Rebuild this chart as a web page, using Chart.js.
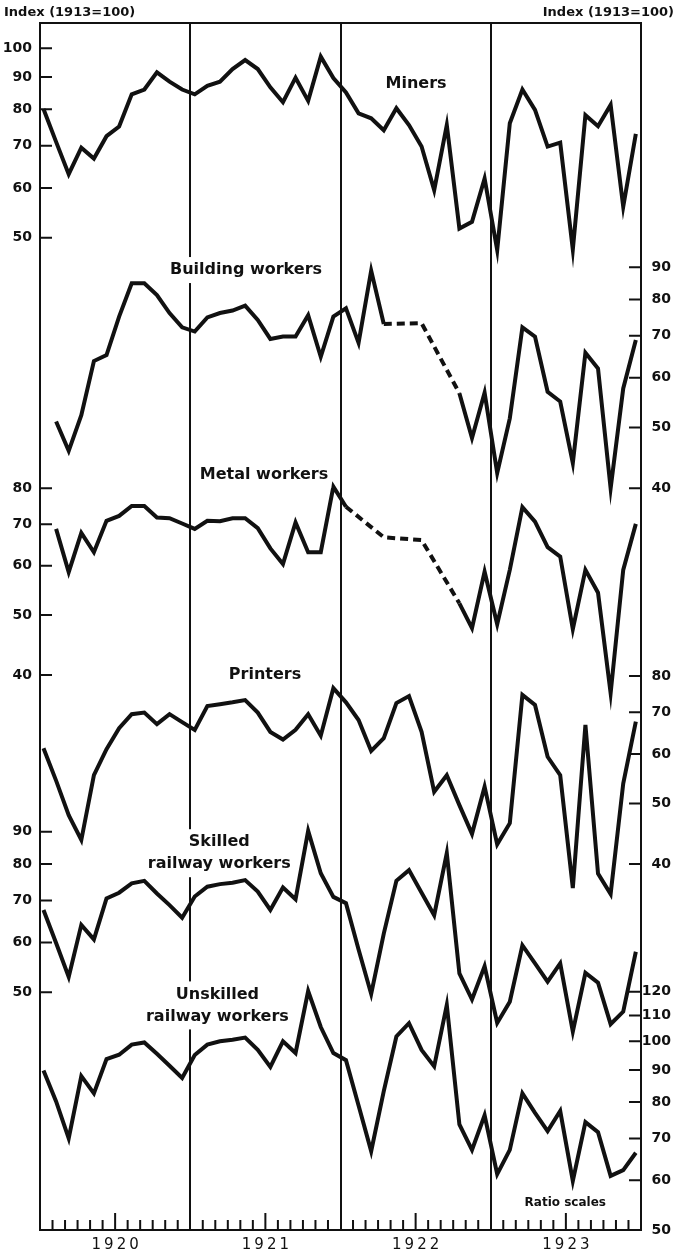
<!DOCTYPE html>
<html>
<head>
<meta charset="utf-8">
<script src="https://cdn.jsdelivr.net/npm/chart.js@4.4.1/dist/chart.umd.min.js"></script>
<style>
  html, body { margin: 0; padding: 0; background: #fff; }
  #wrap { width: 678px; height: 1257px; }
</style>
</head>
<body>
<div id="wrap"><canvas id="c" width="678" height="1257"></canvas></div>
<script>
// Monthly wage index series, Jan 1920 – Dec 1923 (index 1913 = 100), one value per month.
const years = ['1920', '1921', '1922', '1923'];

const miners = [80.1, 71, 63.1, 69.5, 66.8, 72.5, 75.1, 84.5, 86.0, 91.6, 88.5, 86.0,
  84.5, 87.2, 88.5, 92.7, 95.8, 92.7, 86.7, 82.1, 89.8, 82.5, 97.0, 89.7,
  85.1, 78.8, 77.4, 74.1, 80.3, 75.5, 69.8, 59.5, 75.5, 51.7, 53.0, 62.1,
  47.8, 76.0, 86.0, 79.8, 69.8, 70.8, 47.9, 78.3, 75.2, 81.3, 56.0, 73.1];

const building = [null, 51.1, 45.9, 52.3, 63.8, 65.2, 75.1, 84.9, 84.9, 81.3, 76.1, 72.2,
  71.1, 74.9, 76.1, 76.8, 78.2, 74.2, 69.2, 69.8, 69.8, 75.5, 64.8, 75.1,
  77.4, 68.2, 88.9, 73.1, null, null, 73.3, null, null, 56.7, 48.1, 56.8,
  42.3, 51.7, 72.2, 69.8, 57.0, 55.0, 43.9, 65.8, 62.1, 40.0, 57.7, 68.9];

const metal = [null, 68.8, 58.6, 67.8, 63.1, 70.9, 72.2, 74.9, 74.9, 71.8, 71.6, 70.2,
  68.8, 70.9, 70.8, 71.6, 71.6, 69.0, 64.0, 60.4, 70.5, 63.1, 63.1, 80.5,
  74.7, null, null, 66.7, null, null, 66.0, null, null, 52.2, 47.6, 58.7,
  48.3, 59.1, 74.6, 70.7, 64.3, 62.1, 47.4, 59.1, 54.3, 37.4, 59.1, 70.1];

const printers = [61.3, 54.4, 47.9, 43.7, 55.5, 61.1, 66.0, 69.5, 69.9, 67.0, 69.5, 67.5,
  65.6, 71.6, 72.1, 72.6, 73.2, 69.9, 65.1, 63.3, 65.6, 69.5, 64.2, 76.5,
  72.6, 68.0, 60.7, 63.6, 72.4, 74.3, 65.1, 52.2, 55.5, 49.7, 44.7, 53.2,
  43.0, 46.5, 74.6, 71.9, 59.4, 55.5, 36.6, 66.8, 38.6, 35.8, 53.8, 67.6];

const skilled = [67.6, 59.9, 52.9, 64.0, 60.7, 70.5, 72.0, 74.5, 75.2, 71.8, 68.8, 65.7,
  71.0, 73.6, 74.3, 74.7, 75.4, 72.3, 67.6, 73.4, 70.3, 90.3, 77.3, 70.9,
  69.3, 58.5, 49.7, 62.0, 75.2, 78.2, 72.0, 66.3, 83.2, 53.6, 48.7, 55.0,
  44.7, 48.3, 59.4, 55.6, 52.0, 55.6, 43.3, 53.7, 51.8, 44.5, 46.6, 58.0];

const unskilled = [89.8, 80.2, 70.0, 88.0, 82.6, 93.7, 95.2, 98.8, 99.6, 95.5, 91.4, 87.4,
  95.1, 98.8, 100.0, 100.6, 101.4, 96.9, 91.0, 100.0, 95.8, 120.3, 105.4, 95.8,
  93.3, 79.0, 66.8, 83.3, 101.8, 106.9, 96.9, 91.2, 114.3, 73.7, 67.1, 76.2,
  61.4, 67.1, 82.6, 76.9, 71.9, 77.4, 59.9, 74.3, 71.6, 61.0, 62.3, 66.4];

// Tick labels of each ratio scale (left-hand and right-hand)
const minersTicks = [50, 60, 70, 80, 90, 100];
const metalTicks = [40, 50, 60, 70, 80];
const skilledTicks = [50, 60, 70, 80, 90];
const buildingTicks = [40, 50, 60, 70, 80, 90];
const printersTicks = [40, 50, 60, 70, 80];
const unskilledTicks = [50, 60, 70, 80, 90, 100, 110, 120];

// Value range of each ratio scale over the full plot height (bottom, top)
const domains = {
  miners: [1.324, 109.7],
  building: [2.630, 220.6],
  metal: [5.096, 450.1],
  printers: [10.375, 888.7],
  skilled: [20.95, 1737],
  unskilled: [50, 4214]
};

const INK = '#111';
const FONT = "'DejaVu Sans', sans-serif";

const series = [
  { key: 'miners', label: 'Miners', values: miners },
  { key: 'building', label: 'Building workers', values: building },
  { key: 'metal', label: 'Metal workers', values: metal },
  { key: 'printers', label: 'Printers', values: printers },
  { key: 'skilled', label: 'Skilled railway workers', values: skilled },
  { key: 'unskilled', label: 'Unskilled railway workers', values: unskilled }
];

// Series captions, placed in data units (month index, value on the series' own scale)
const captions = [
  { key: 'miners', lines: ['Miners'], x: 29.56, y: 87.7 },
  { key: 'building', lines: ['Building workers'], x: 16.07, y: 89.1 },
  { key: 'metal', lines: ['Metal workers'], x: 17.5, y: 84.0 },
  { key: 'printers', lines: ['Printers'], x: 17.58, y: 80.3 },
  { key: 'skilled', lines: ['Skilled', 'railway workers'], x: 13.95, y: 83.2 },
  { key: 'unskilled', lines: ['Unskilled', 'railway workers'], x: 13.8, y: 114.1 },
  { key: 'unskilled', lines: ['Ratio scales'], x: 41.4, y: 55.2, size: 12, plain: true }
];

// Position of a value on a series' ratio scale, as a fraction of the plot height
function frac(key, v) {
  const [lo, hi] = domains[key];
  return Math.log(v / lo) / Math.log(hi / lo);
}
function tickList(groups) {
  const out = [];
  groups.forEach(([key, vals]) => vals.forEach(v => out.push({ value: frac(key, v), text: String(v) })));
  return out.sort((a, b) => a.value - b.value);
}
const leftList = tickList([['miners', minersTicks], ['metal', metalTicks], ['skilled', skilledTicks]]);
const rightList = tickList([['building', buildingTicks], ['printers', printersTicks], ['unskilled', unskilledTicks]]);

const scales = {
  x: {
    type: 'linear', position: 'bottom', min: 0, max: 48,
    afterFit: s => { s.height = 27; },
    afterBuildTicks: s => { s.ticks = Array.from({ length: 49 }, (_, m) => ({ value: m })); },
    grid: {
      display: true, drawOnChartArea: true, drawTicks: false, lineWidth: 2,
      color: c => (c.tick && c.tick.value % 12 === 0) ? INK : 'rgba(0,0,0,0)'
    },
    border: { display: true, color: INK, width: 2 },
    ticks: { display: false, autoSkip: false }
  },
  xd: { type: 'linear', display: false, min: -0.278, max: 47.41 },
  yl: {
    type: 'linear', position: 'left', min: 0, max: 1,
    afterFit: s => { s.width = 40; },
    afterBuildTicks: s => { s.ticks = leftList.map(t => ({ value: t.value })); },
    grid: { display: true, drawOnChartArea: false, drawTicks: false },
    border: { display: true, color: INK, width: 2 },
    ticks: {
      autoSkip: false, padding: 8, color: INK,
      font: { family: FONT, size: 14, weight: 'bold' },
      callback: (v, i) => leftList[i] ? leftList[i].text : ''
    }
  },
  yr: {
    type: 'linear', position: 'right', min: 0, max: 1,
    afterFit: s => { s.width = 30; },
    afterBuildTicks: s => { s.ticks = rightList.map(t => ({ value: t.value })); },
    grid: { display: true, drawOnChartArea: false, drawTicks: false },
    border: { display: true, color: INK, width: 2 },
    ticks: {
      autoSkip: false, padding: 2, crossAlign: 'far', color: INK,
      font: { family: FONT, size: 14, weight: 'bold' },
      callback: (v, i) => rightList[i] ? rightList[i].text : ''
    }
  }
};
series.forEach(s => {
  scales[s.key] = { type: 'logarithmic', display: false, min: domains[s.key][0], max: domains[s.key][1] };
});

// Inward tick marks, top frame line, year labels and the scale headings
const framePlugin = {
  id: 'frame',
  afterDraw(chart) {
    const { ctx, chartArea: a } = chart;
    const xs = chart.scales.x;
    ctx.save();
    ctx.strokeStyle = INK;
    ctx.lineWidth = 2;
    ctx.beginPath();
    ctx.moveTo(a.left - 1, a.top);
    ctx.lineTo(a.right + 1, a.top);
    chart.scales.yl.ticks.forEach(t => {
      const y = chart.scales.yl.getPixelForValue(t.value);
      ctx.moveTo(a.left, y); ctx.lineTo(a.left + 12, y);
    });
    chart.scales.yr.ticks.forEach(t => {
      const y = chart.scales.yr.getPixelForValue(t.value);
      ctx.moveTo(a.right, y); ctx.lineTo(a.right - 12, y);
    });
    xs.ticks.forEach(t => {
      if (t.value % 12 === 0) return;
      const x = xs.getPixelForValue(t.value);
      const len = (t.value % 12 === 6) ? 17 : 10;
      ctx.moveTo(x, a.bottom); ctx.lineTo(x, a.bottom - len);
    });
    ctx.stroke();

    // Year labels under the mid-year ticks
    ctx.fillStyle = INK;
    ctx.font = `15px ${FONT}`;
    ctx.textBaseline = 'middle';
    ctx.textAlign = 'center';
    const spacing = 3;
    if ('letterSpacing' in ctx) ctx.letterSpacing = spacing + 'px';
    years.forEach((label, i) => {
      const x = xs.getPixelForValue(12 * i + 6);
      ctx.fillText(label, x + spacing / 2, a.bottom + 15);
    });
    if ('letterSpacing' in ctx) ctx.letterSpacing = '0px';

    ctx.font = `bold 13px ${FONT}`;
    ctx.textAlign = 'left';
    ctx.fillText('Index (1913=100)', 4, 13);
    ctx.textAlign = 'right';
    ctx.fillText('Index (1913=100)', 674, 13);
    ctx.restore();
  }
};

// Series captions on white boxes
const captionPlugin = {
  id: 'captions',
  afterDatasetsDraw(chart) {
    const { ctx } = chart;
    ctx.save();
    captions.forEach(c => {
      const size = c.size || 16;
      const lh = size + 6;
      ctx.font = `bold ${size}px ${FONT}`;
      const cx = chart.scales.xd.getPixelForValue(c.x);
      const cy = chart.scales[c.key].getPixelForValue(c.y);
      const w = Math.max(...c.lines.map(l => ctx.measureText(l).width));
      const h = lh * c.lines.length;
      if (!c.plain) {
        ctx.fillStyle = '#fff';
        ctx.fillRect(cx - w / 2 - 3, cy - h / 2 - 2, w + 6, h + 4);
      }
      ctx.fillStyle = INK;
      ctx.textAlign = 'center';
      ctx.textBaseline = 'middle';
      c.lines.forEach((l, i) => ctx.fillText(l, cx, cy - h / 2 + lh * (i + 0.5)));
    });
    ctx.restore();
  }
};

new Chart(document.getElementById('c'), {
  type: 'line',
  data: {
    datasets: series.map(s => ({
      label: s.label,
      data: s.values.map((v, i) => ({ x: i, y: v })),
      xAxisID: 'xd',
      yAxisID: s.key,
      borderColor: INK,
      borderWidth: 4,
      pointRadius: 0,
      pointHoverRadius: 0,
      tension: 0,
      fill: false,
      spanGaps: true,
      segment: {
        borderDash: c => (c.p1DataIndex - c.p0DataIndex > 1 || c.p0.skip || c.p1.skip) ? [8, 5] : undefined
      }
    }))
  },
  options: {
    responsive: false,
    animation: false,
    events: [],
    layout: { padding: { top: 23, left: 0, right: 7, bottom: 0 } },
    plugins: { legend: { display: false }, tooltip: { enabled: false }, title: { display: false } },
    scales
  },
  plugins: [captionPlugin, framePlugin]
});
</script>
</body>
</html>
